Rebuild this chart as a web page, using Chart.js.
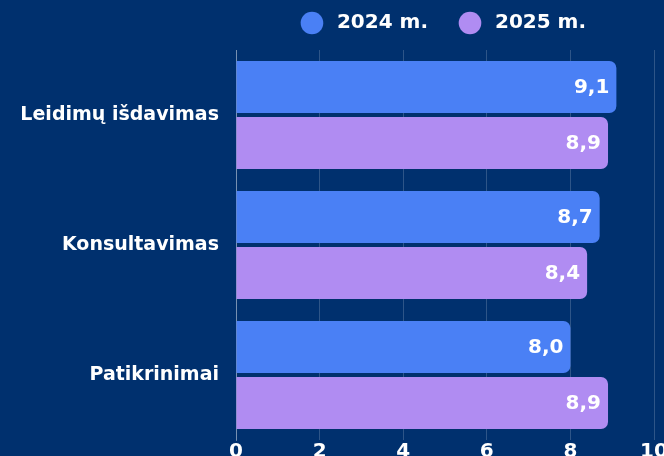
<!DOCTYPE html>
<html>
<head>
<meta charset="utf-8">
<script src="https://cdn.jsdelivr.net/npm/chart.js@4"></script>
<style>
    html, body { margin: 0; padding: 0; background: #00306e; overflow: hidden; }
    #wrap { width: 664px; height: 456px; overflow: hidden; }
    #box { width: 680px; height: 470px; position: relative; }
</style>
</head>
<body>
<div id="wrap"><div id="box"><canvas id="chart"></canvas></div></div>
<script>
const categories = ['Leidimų išdavimas', 'Konsultavimas', 'Patikrinimai'];
const seriesNames = ['2024 m.', '2025 m.'];
const values2024 = [9.1, 8.7, 8.0];
const values2025 = [8.9, 8.4, 8.9];
const xTicks = [0, 2, 4, 6, 8, 10];

const FONT = '"DejaVu Sans", sans-serif';

// --- Value labels inside bar ends ---
const barValueLabels = {
    id: 'barValueLabels',
    afterDatasetsDraw(chart) {
        const ctx = chart.ctx;
        ctx.save();
        ctx.font = 'bold 20px ' + FONT;
        ctx.fillStyle = '#ffffff';
        ctx.textAlign = 'right';
        ctx.textBaseline = 'middle';
        chart.data.datasets.forEach((ds, i) => {
            chart.getDatasetMeta(i).data.forEach((bar, j) => {
                const txt = ds.data[j].toFixed(1).replace('.', ',');
                ctx.fillText(txt, bar.x - 7, bar.y + 1);
            });
        });
        ctx.restore();
    }
};

// --- Extra gap under the legend ---
const legendGap = {
    id: 'legendGap',
    beforeInit(chart) {
        const fit = chart.legend.fit;
        chart.legend.fit = function () {
            fit.call(this);
            this.height += 7;
        };
    }
};

new Chart(document.getElementById('chart'), {
    type: 'bar',
    data: {
        labels: categories,
        datasets: [
            {
                label: seriesNames[0],
                data: values2024,
                backgroundColor: '#4a80f5',
                borderRadius: 7,
                categoryPercentage: 0.862,
                barPercentage: 0.93
            },
            {
                label: seriesNames[1],
                data: values2025,
                backgroundColor: '#b08cf2',
                borderRadius: 7,
                categoryPercentage: 0.862,
                barPercentage: 0.93
            }
        ]
    },
    options: {
        indexAxis: 'y',
        responsive: true,
        maintainAspectRatio: false,
        animation: false,
        layout: { padding: { top: -21, right: 26, left: 0, bottom: 0 } },
        plugins: {
            tooltip: { enabled: false },
            legend: {
                position: 'top',
                fullSize: false,
                labels: {
                    color: '#ffffff',
                    font: { family: FONT, size: 20, weight: 'bold' },
                    usePointStyle: true,
                    pointStyle: 'circle',
                    boxWidth: 16,
                    boxHeight: 16,
                    padding: 34,
                    generateLabels: (chart) => Chart.defaults.plugins.legend.labels
                        .generateLabels(chart)
                        .map(item => ({ ...item, text: ' ' + item.text }))
                }
            }
        },
        scales: {
            x: {
                min: 0,
                max: 10,
                afterBuildTicks: (scale) => { scale.ticks = xTicks.map(v => ({ value: v })); },
                afterFit: (scale) => { scale.height = 30; },
                grid: { color: 'rgba(255,255,255,0.18)', drawTicks: false },
                border: { display: false },
                ticks: {
                    color: '#ffffff',
                    padding: 0,
                    font: { family: FONT, size: 20, weight: 'bold' }
                }
            },
            y: {
                afterFit: (scale) => { scale.width = 236; },
                grid: { display: false, drawTicks: false },
                border: { display: true, color: 'rgba(255,255,255,0.35)' },
                ticks: {
                    color: '#ffffff',
                    padding: 17,
                    font: { family: FONT, size: 19, weight: 'bold' }
                }
            }
        }
    },
    plugins: [barValueLabels, legendGap]
});
</script>
</body>
</html>
